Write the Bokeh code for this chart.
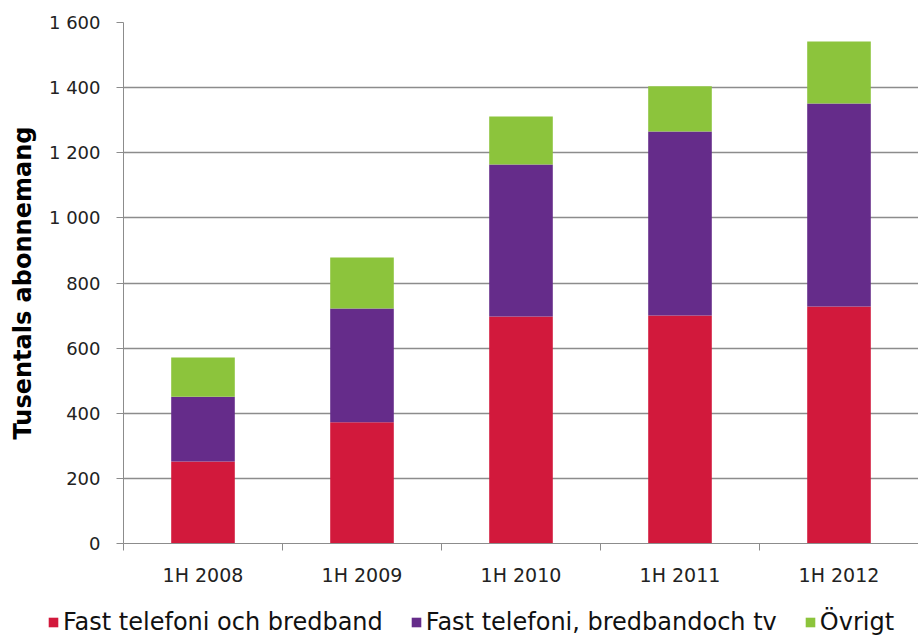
from bokeh.plotting import figure
from bokeh.models import ColumnDataSource, FixedTicker, Range1d, Legend, LegendItem
from bokeh.layouts import column
from bokeh.embed import file_html
from bokeh.resources import INLINE

categories = ["1H 2008", "1H 2009", "1H 2010", "1H 2011", "1H 2012"]
fast_bredband = [252, 372, 697, 700, 728]
fast_bredband_tv = [199, 350, 467, 565, 623]
ovrigt = [120, 156, 147, 139, 191]
series_names = ["Fast telefoni och bredband", "Fast telefoni, bredbandoch tv", "Övrigt"]
y_ticks = [0, 200, 400, 600, 800, 1000, 1200, 1400, 1600]
y_tick_labels = ["0", "200", "400", "600", "800", "1 000", "1 200", "1 400", "1 600"]
colors = ["#D2193C", "#652C8A", "#8CC43C"]

FONT = "DejaVu Sans"
GRAY = "#8c8c8c"

xpos = [i + 0.5 for i in range(len(categories))]
source = ColumnDataSource(dict(x=xpos, a=fast_bredband, b=fast_bredband_tv, c=ovrigt))

p = figure(width=918, height=590, output_backend="svg", toolbar_location=None,
           x_range=Range1d(0, len(categories)), y_range=Range1d(0, 1600),
           min_border_left=123, min_border_right=0, min_border_top=22, min_border_bottom=47)
p.outline_line_color = None
p.background_fill_color = "white"

renderers = p.vbar_stack(["a", "b", "c"], x="x", width=0.40, source=source,
                         color=colors, line_color=None)

# y axis
p.yaxis.ticker = FixedTicker(ticks=y_ticks)
p.yaxis.major_label_overrides = {t: l for t, l in zip(y_ticks, y_tick_labels)}
p.yaxis.axis_label = "Tusentals abonnemang"
p.yaxis.axis_label_text_font = FONT
p.yaxis.axis_label_text_font_style = "bold"
p.yaxis.axis_label_text_font_size = "24px"
p.yaxis.axis_label_text_color = "#000000"
p.yaxis.major_label_text_font = FONT
p.yaxis.major_label_text_font_size = "18px"
p.yaxis.major_label_text_color = "#222222"
p.yaxis.axis_line_color = GRAY
p.yaxis.major_tick_line_color = GRAY
p.yaxis.major_tick_out = 7
p.yaxis.major_tick_in = 0
p.yaxis.minor_tick_line_color = None
p.yaxis.major_label_standoff = 16
p.yaxis.axis_label_standoff = 9

# x axis
p.xaxis.ticker = FixedTicker(ticks=xpos, minor_ticks=list(range(len(categories) + 1)))
p.xaxis.major_label_overrides = {x: c for x, c in zip(xpos, categories)}
p.xaxis.major_label_text_font = FONT
p.xaxis.major_label_text_font_size = "19px"
p.xaxis.major_label_text_color = "#222222"
p.xaxis.axis_line_color = GRAY
p.xaxis.major_tick_line_color = None
p.xaxis.major_tick_out = 0
p.xaxis.major_tick_in = 0
p.xaxis.minor_tick_line_color = GRAY
p.xaxis.minor_tick_out = 7
p.xaxis.minor_tick_in = 0
p.xaxis.major_label_standoff = 13

p.xgrid.grid_line_color = None
p.ygrid.grid_line_color = GRAY
p.ygrid.grid_line_width = 1.5

# legend strip below the chart
lg = figure(width=918, height=46, output_backend="svg", toolbar_location=None,
            x_range=Range1d(0, 1), y_range=Range1d(0, 1), frame_align=False,
            min_border_left=0, min_border_right=0, min_border_top=0, min_border_bottom=0)
lg.outline_line_color = None
lg.axis.visible = False
lg.grid.visible = False
swatches = [lg.vbar(x=[5], top=[1], width=0.1, color=c, line_color=None) for c in colors]
items = [LegendItem(label=n, renderers=[r]) for n, r in zip(series_names, swatches)]
legend = Legend(items=items, orientation="horizontal", location=(47, 0),
                label_text_font=FONT, label_text_font_size="24px", label_text_color="#111111",
                glyph_width=12, glyph_height=12, label_standoff=4, spacing=27,
                padding=0, margin=0, border_line_color=None, background_fill_alpha=0)
lg.add_layout(legend, "center")

open("out.html", "w").write(file_html(column(p, lg), INLINE))
